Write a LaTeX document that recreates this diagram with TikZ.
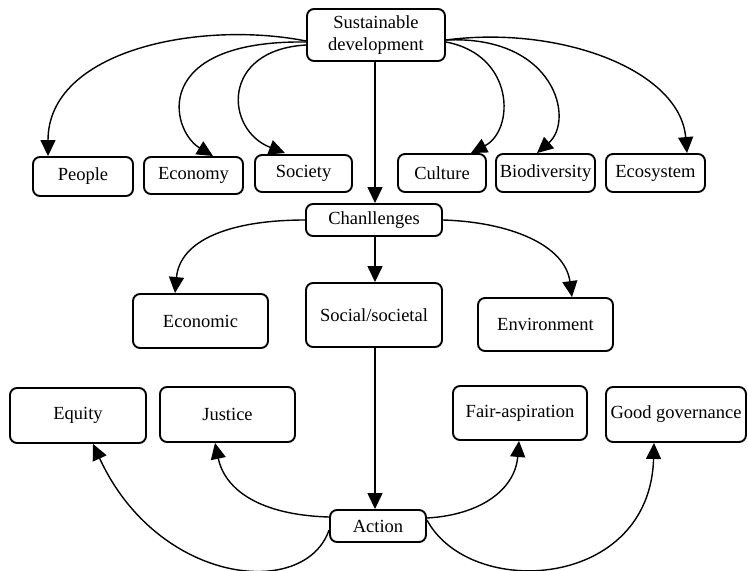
\documentclass[tikz,border=0pt]{standalone}
\usepackage{fontspec}
\setmainfont{Liberation Serif}
\newfontfamily\boxfont{Liberation Serif}
\usetikzlibrary{arrows.meta}
\begin{document}
\begin{tikzpicture}[x=1pt,y=-1pt,
  box/.style={draw, line width=1.9pt, rounded corners=7pt, inner sep=0pt,
    font=\boxfont\fontsize{18.5}{22}\selectfont, align=center},
  conn/.style={line width=1.4pt, -{Triangle[length=16pt,width=15pt]}}]
\useasboundingbox (0,0) rectangle (748,571);
% top
\node[box, minimum width=138pt, minimum height=52pt] (sd) at (376,35) {Sustainable\\development};
\node[box, minimum width=100pt, minimum height=39pt] (people) at (83,176.5) {People};
\node[box, minimum width=99pt, minimum height=37pt] (economy) at (193.5,175.5) {Economy};
\node[box, minimum width=97pt, minimum height=37pt] (society) at (303.5,173.5) {Society};
\node[box, minimum width=88pt, minimum height=38pt] (culture) at (442,173) {Culture};
\node[box, minimum width=99pt, minimum height=38pt] (bio) at (545.5,173) {Biodiversity};
\node[box, minimum width=99pt, minimum height=38pt] (eco) at (655.5,173) {Ecosystem};
% middle
\node[box, minimum width=136pt, minimum height=32pt] (chal) at (374,220) {Chanllenges};
\node[box, minimum width=135pt, minimum height=54pt] (economic) at (200.5,321) {Economic};
\node[box, minimum width=136pt, minimum height=64pt] (social) at (374,315) {Social/societal};
\node[box, minimum width=135pt, minimum height=53pt] (env) at (545.5,324.5) {Environment};
% bottom
\node[box, minimum width=136pt, minimum height=55pt] (equity) at (78,415.5) {Equity};
\node[box, minimum width=135pt, minimum height=55pt] (justice) at (227.5,414.5) {Justice};
\node[box, minimum width=134pt, minimum height=54pt] (fair) at (520,413) {Fair-aspiration};
\node[box, minimum width=140pt, minimum height=55pt] (good) at (676,414.5) {Good governance};
\node[box, minimum width=96pt, minimum height=32pt] (action) at (378,526) {Action};
% connectors from Sustainable development
\draw[conn] ([yshift=-6pt]sd.west) .. controls (200,20) and (48,50) .. (people.north west -| 48,0);
\draw[conn] ([yshift=-7pt]sd.west) .. controls (150,40) and (170,130) .. (economy.north -| 213,0);
\draw[conn] ([yshift=-10pt]sd.west) .. controls (220,50) and (225,130) .. ([yshift=1pt]society.north -| 285,0);
\draw[conn] ([yshift=-7pt]sd.east) .. controls (515,55) and (515,130) .. (culture.north -| 471,0);
\draw[conn] ([yshift=-5pt]sd.east) .. controls (555,35) and (575,120) .. (bio.north -| 537,0);
\draw[conn] ([yshift=-5pt]sd.east) .. controls (560,25) and (680,70) .. (eco.north -| 687,0);
\draw[conn] (sd.south -| 375,0) -- (chal.north -| 375,0);
% from Challenges
\draw[conn] (chal.west) .. controls (230,220) and (180,240) .. (economic.north -| 175,0);
\draw[conn] (chal.south -| 375,0) -- (social.north -| 375,0);
\draw[conn] (chal.east) .. controls (510,222) and (565,245) .. (env.north -| 572,0);
\draw[conn] (social.south -| 375,0) -- (action.north -| 375,0);
% from Action
\draw[conn] ([yshift=-4pt]action.west) .. controls (305,600) and (158,585) .. (equity.south -| 93,0);
\draw[conn] ([yshift=9pt]action.west) .. controls (260,515) and (225,490) .. (justice.south -| 215,0);
\draw[conn] ([yshift=8pt]action.east) .. controls (480,515) and (515,490) .. (fair.south -| 519,0);
\draw[conn] ([yshift=6pt]action.east) .. controls (470,600) and (650,590) .. (good.south -| 654,0);
\end{tikzpicture}
\end{document}
